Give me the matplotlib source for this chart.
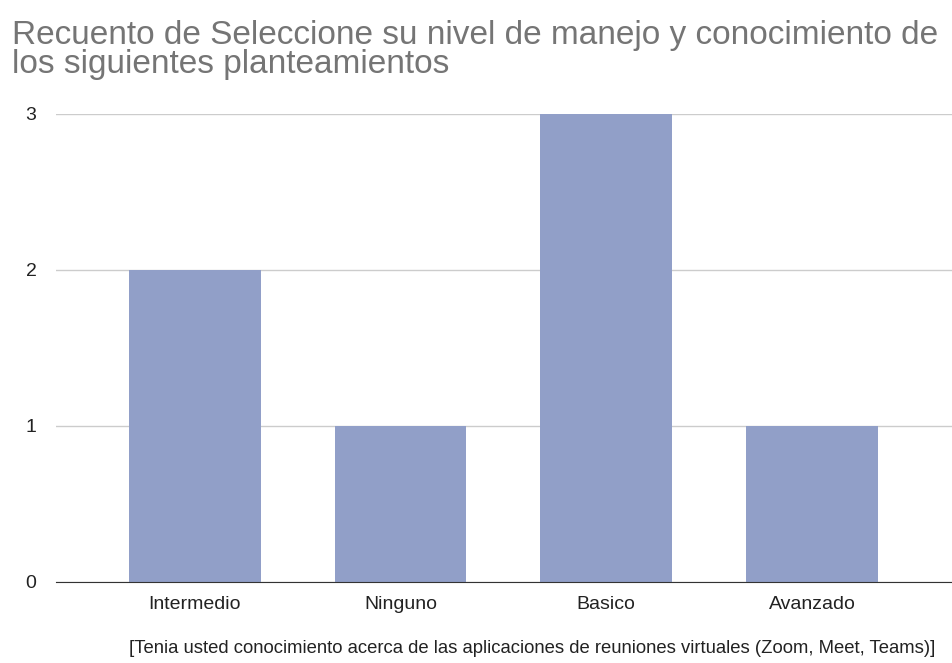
import matplotlib.pyplot as plt

plt.rcParams['font.family'] = ['Liberation Sans', 'DejaVu Sans']

categories = ["Intermedio", "Ninguno", "Basico", "Avanzado"]
counts = [2, 1, 3, 1]
yticks = [0, 1, 2, 3]

fig = plt.figure(figsize=(9.53, 6.63), dpi=100)
ax = fig.add_axes([0.0588, 0.1222, 0.94, 0.706])

x = range(len(categories))
ax.bar(x, counts, width=0.64, color="#919fc8", zorder=2)

ax.set_xlim(-0.675, 3.68)
ax.set_ylim(0, 3)
ax.set_yticks(yticks)
ax.set_yticklabels([str(t) for t in yticks], fontsize=14, color="#222222")
ax.set_xticks(list(x))
ax.set_xticklabels(categories, fontsize=14, color="#222222")
ax.tick_params(axis="both", length=0)
ax.tick_params(axis="y", pad=14)
ax.tick_params(axis="x", pad=10)

ax.grid(axis="y", color="#cccccc", linewidth=1, zorder=0)
for s in ["top", "right", "left"]:
    ax.spines[s].set_visible(False)
ax.spines["bottom"].set_color("#333333")
ax.spines["bottom"].set_zorder(3)

ax.set_xlabel("[Tenia usted conocimiento acerca de las aplicaciones de reuniones virtuales (Zoom, Meet, Teams)]",
              fontsize=13.3, color="#222222")
ax.xaxis.set_label_coords(0.532, -0.124)

fig.text(0.0125, 0.97, "Recuento de Seleccione su nivel de manejo y conocimiento de\nlos siguientes planteamientos",
         fontsize=24, color="#757575", va="top", ha="left", linespacing=0.92)

fig.savefig("out.png", dpi=100)
